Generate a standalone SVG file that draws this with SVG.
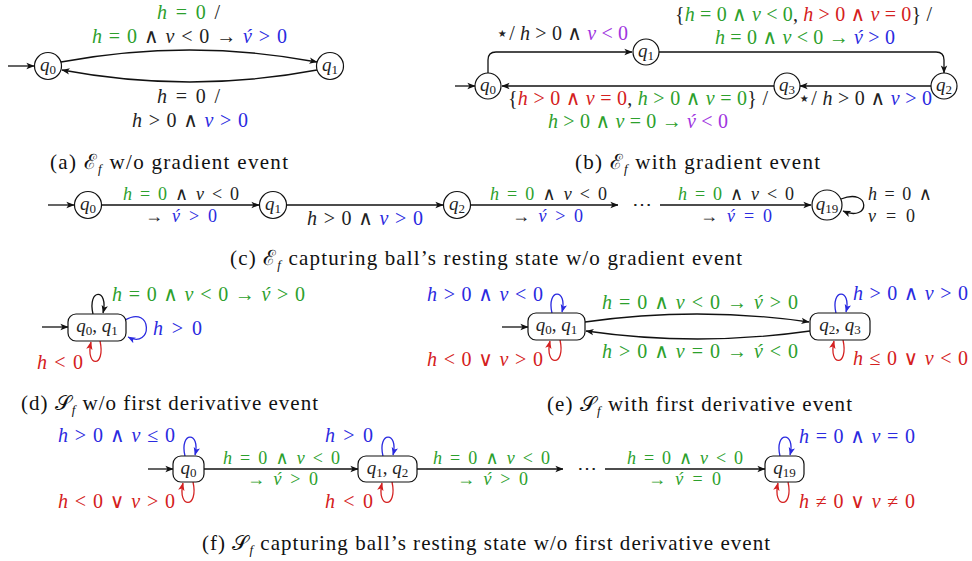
<svg xmlns="http://www.w3.org/2000/svg" width="972" height="561" viewBox="0 0 972 561">
<style>
.m{font-family:"Liberation Serif","DejaVu Serif",serif;font-size:20px;fill:#222}
.m2{font-size:18px}
.n{font-family:"Liberation Serif","DejaVu Serif",serif;font-size:19px;fill:#222}
.cap{font-family:"Liberation Serif","DejaVu Serif",serif;font-size:21px;fill:#111}
.i{font-style:italic}
.s{font-size:13px}
.g{fill:#2ca02c}
.b{fill:#2a2ae0}
.r{fill:#d42020}
.p{fill:#a035e0}
.k{fill:#222}
.node{fill:#fff;stroke:#111;stroke-width:1.2}
.e{fill:none;stroke:#111;stroke-width:1.3}
.eb{fill:none;stroke:#2a2ae0;stroke-width:1.3}
.er{fill:none;stroke:#d42020;stroke-width:1.3}
</style>
<defs>
<marker id="ak" viewBox="0 0 10 10" refX="9.5" refY="5" markerWidth="8" markerHeight="8" markerUnits="userSpaceOnUse" orient="auto"><path d="M0,1 L10,5 L0,9 L2.5,5 z" fill="#111"/></marker>
<marker id="ab" viewBox="0 0 10 10" refX="9.5" refY="5" markerWidth="8" markerHeight="8" markerUnits="userSpaceOnUse" orient="auto"><path d="M0,1 L10,5 L0,9 L2.5,5 z" fill="#2a2ae0"/></marker>
<marker id="ar" viewBox="0 0 10 10" refX="9.5" refY="5" markerWidth="8" markerHeight="8" markerUnits="userSpaceOnUse" orient="auto"><path d="M0,1 L10,5 L0,9 L2.5,5 z" fill="#d42020"/></marker>
</defs>

<!-- ===== (a) ===== -->
<g id="connectors-a">
<path class="e" d="M8,66 L34,66" marker-end="url(#ak)"/>
<path class="e" d="M61,62 Q190,38 317,62" marker-end="url(#ak)"/>
<path class="e" d="M317,70 Q190,94 62,70" marker-end="url(#ak)"/>
</g>
<g id="a-q0"><circle class="node" cx="48" cy="66" r="13.5"/><text class="n" x="48" y="71" text-anchor="middle"><tspan class="i">q</tspan><tspan class="s" dy="3">0</tspan></text></g>
<g id="a-q1"><circle class="node" cx="330" cy="66" r="13.5"/><text class="n" x="330" y="71" text-anchor="middle"><tspan class="i">q</tspan><tspan class="s" dy="3">1</tspan></text></g>
<g id="labels-a">
<text class="m" x="157" y="19" textLength="63" lengthAdjust="spacing"><tspan class="g"><tspan class="i">h</tspan> = 0</tspan> /</text>
<text class="m" x="92" y="43" textLength="195" lengthAdjust="spacing"><tspan class="g"><tspan class="i">h</tspan> = 0</tspan> &#x2227; <tspan class="i">v</tspan> &lt; 0 &#x2192; <tspan class="b"><tspan class="i">v&#x301;</tspan> &gt; 0</tspan></text>
<text class="m" x="157" y="103" textLength="63" lengthAdjust="spacing"><tspan class="i">h</tspan> = 0 /</text>
<text class="m" x="132" y="127" textLength="116" lengthAdjust="spacing"><tspan class="i">h</tspan> &gt; 0 &#x2227; <tspan class="b"><tspan class="i">v</tspan> &gt; 0</tspan></text>
<text class="cap" x="50" y="169" textLength="238" lengthAdjust="spacing">(a) &#x2130;<tspan class="i s" dy="4">f</tspan><tspan dy="-4"> w/o gradient event</tspan></text>
</g>

<!-- ===== (b) ===== -->
<g id="connectors-b">
<path class="e" d="M455,86 L475,86" marker-end="url(#ak)"/>
<path class="e" d="M488,73 L488,60 Q488,52 496,52 L632,52" marker-end="url(#ak)"/>
<path class="e" d="M659,52 L936,52 Q944,52 944,60 L944,73" marker-end="url(#ak)"/>
<path class="e" d="M931,86 L800,86" marker-end="url(#ak)"/>
<path class="e" d="M774,86 L502,86" marker-end="url(#ak)"/>
</g>
<g id="b-q0"><circle class="node" cx="488" cy="86" r="13"/><text class="n" x="488" y="91" text-anchor="middle"><tspan class="i">q</tspan><tspan class="s" dy="3">0</tspan></text></g>
<g id="b-q1"><circle class="node" cx="646" cy="52" r="13"/><text class="n" x="646" y="57" text-anchor="middle"><tspan class="i">q</tspan><tspan class="s" dy="3">1</tspan></text></g>
<g id="b-q3"><circle class="node" cx="787" cy="86" r="13"/><text class="n" x="787" y="91" text-anchor="middle"><tspan class="i">q</tspan><tspan class="s" dy="3">3</tspan></text></g>
<g id="b-q2"><circle class="node" cx="944" cy="86" r="13"/><text class="n" x="944" y="91" text-anchor="middle"><tspan class="i">q</tspan><tspan class="s" dy="3">2</tspan></text></g>
<g id="labels-b">
<text class="m" x="496" y="40" textLength="132" lengthAdjust="spacing">&#x22C6;/ <tspan class="i">h</tspan> &gt; 0 &#x2227; <tspan class="p"><tspan class="i">v</tspan> &lt; 0</tspan></text>
<text class="m" x="675" y="21" textLength="257" lengthAdjust="spacing">{<tspan class="g"><tspan class="i">h</tspan> = 0 &#x2227; <tspan class="i">v</tspan> &lt; 0</tspan>, <tspan class="r"><tspan class="i">h</tspan> &gt; 0 &#x2227; <tspan class="i">v</tspan> = 0</tspan>} /</text>
<text class="m g" x="715" y="44" textLength="180" lengthAdjust="spacing"><tspan class="i">h</tspan> = 0 &#x2227; <tspan class="i">v</tspan> &lt; 0 &#x2192; <tspan class="b"><tspan class="i">v&#x301;</tspan> &gt; 0</tspan></text>
<text class="m" x="508" y="105" textLength="260" lengthAdjust="spacing">{<tspan class="r"><tspan class="i">h</tspan> &gt; 0 &#x2227; <tspan class="i">v</tspan> = 0</tspan>, <tspan class="g"><tspan class="i">h</tspan> &gt; 0 &#x2227; <tspan class="i">v</tspan> = 0</tspan>} /</text>
<text class="m g" x="548" y="128" textLength="180" lengthAdjust="spacing"><tspan class="i">h</tspan> &gt; 0 &#x2227; <tspan class="i">v</tspan> = 0 &#x2192; <tspan class="p"><tspan class="i">v&#x301;</tspan> &lt; 0</tspan></text>
<text class="m" x="798" y="105" textLength="134" lengthAdjust="spacing">&#x22C6;/ <tspan class="i">h</tspan> &gt; 0 &#x2227; <tspan class="b"><tspan class="i">v</tspan> &gt; 0</tspan></text>
<text class="cap" x="575" y="169" textLength="245" lengthAdjust="spacing">(b) &#x2130;<tspan class="i s" dy="4">f</tspan><tspan dy="-4"> with gradient event</tspan></text>
</g>

<!-- ===== (c) ===== -->
<g id="connectors-c">
<path class="e" d="M48,205 L74,205" marker-end="url(#ak)"/>
<path class="e" d="M102,205 L259,205" marker-end="url(#ak)"/>
<path class="e" d="M287,205 L443,205" marker-end="url(#ak)"/>
<path class="e" d="M471,205 L618,205" marker-end="url(#ak)"/>
<path class="e" d="M660,205 L811,205" marker-end="url(#ak)"/>
<path class="e" d="M841,199 C871,187 871,223 843,211" marker-end="url(#ak)"/>
</g>
<g id="c-q0"><circle class="node" cx="88" cy="205" r="13.5"/><text class="n" x="88" y="210" text-anchor="middle"><tspan class="i">q</tspan><tspan class="s" dy="3">0</tspan></text></g>
<g id="c-q1"><circle class="node" cx="273" cy="205" r="13.5"/><text class="n" x="273" y="210" text-anchor="middle"><tspan class="i">q</tspan><tspan class="s" dy="3">1</tspan></text></g>
<g id="c-q2"><circle class="node" cx="457" cy="205" r="13.5"/><text class="n" x="457" y="210" text-anchor="middle"><tspan class="i">q</tspan><tspan class="s" dy="3">2</tspan></text></g>
<g id="c-q19"><circle class="node" cx="827" cy="205" r="15"/><text class="n" x="827" y="210" text-anchor="middle"><tspan class="i">q</tspan><tspan class="s" dy="3">19</tspan></text></g>
<g id="labels-c">
<text class="m m2" x="123" y="200" textLength="116" lengthAdjust="spacing"><tspan class="g"><tspan class="i">h</tspan> = 0</tspan> &#x2227; <tspan class="i">v</tspan> &lt; 0</text>
<text class="m m2" x="145" y="222" textLength="72" lengthAdjust="spacing">&#x2192; <tspan class="b"><tspan class="i">v&#x301;</tspan> &gt; 0</tspan></text>
<text class="m" x="307" y="225" textLength="116" lengthAdjust="spacing"><tspan class="i">h</tspan> &gt; 0 &#x2227; <tspan class="b"><tspan class="i">v</tspan> &gt; 0</tspan></text>
<text class="m m2" x="490" y="200" textLength="117" lengthAdjust="spacing"><tspan class="g"><tspan class="i">h</tspan> = 0</tspan> &#x2227; <tspan class="i">v</tspan> &lt; 0</text>
<text class="m m2" x="512" y="222" textLength="71" lengthAdjust="spacing">&#x2192; <tspan class="b"><tspan class="i">v&#x301;</tspan> &gt; 0</tspan></text>
<text class="m" x="642" y="211" text-anchor="middle">&#x22EF;</text>
<text class="m m2" x="678" y="200" textLength="116" lengthAdjust="spacing"><tspan class="g"><tspan class="i">h</tspan> = 0</tspan> &#x2227; <tspan class="i">v</tspan> &lt; 0</text>
<text class="m m2" x="700" y="222" textLength="72" lengthAdjust="spacing">&#x2192; <tspan class="b"><tspan class="i">v&#x301;</tspan> = 0</tspan></text>
<text class="m m2" x="868" y="200" textLength="64" lengthAdjust="spacing"><tspan class="i">h</tspan> = 0 &#x2227;</text>
<text class="m m2" x="868" y="222" textLength="47" lengthAdjust="spacing"><tspan class="i">v</tspan> = 0</text>
<text class="cap" x="230" y="265" textLength="512" lengthAdjust="spacing">(c) &#x2130;<tspan class="i s" dy="4">f</tspan><tspan dy="-4"> capturing ball’s resting state w/o gradient event</tspan></text>
</g>

<!-- ===== (d) ===== -->
<g id="connectors-d">
<path class="e" d="M42,327 L68,327" marker-end="url(#ak)"/>
<path class="e" d="M93,314 C87,288 109,288 103,313" marker-end="url(#ak)"/>
<path class="eb" d="M125,320 C153,304 153,350 128,337" marker-end="url(#ab)"/>
<path class="er" d="M100,341 C106,368 85,368 91,342" marker-end="url(#ar)"/>
</g>
<g id="d-q0q1"><rect class="node" x="68" y="314" width="58" height="27" rx="8"/><text class="n" x="97" y="332" text-anchor="middle"><tspan class="i">q</tspan><tspan class="s" dy="3">0</tspan><tspan dy="-3">, </tspan><tspan class="i">q</tspan><tspan class="s" dy="3">1</tspan></text></g>
<g id="labels-d">
<text class="m g" x="112" y="301" textLength="193" lengthAdjust="spacing"><tspan class="i">h</tspan> = 0 &#x2227; <tspan class="i">v</tspan> &lt; 0 &#x2192; <tspan class="i">v&#x301;</tspan> &gt; 0</text>
<text class="m b" x="153" y="335" textLength="49" lengthAdjust="spacing"><tspan class="i">h</tspan> &gt; 0</text>
<text class="m r" x="37" y="369" textLength="46" lengthAdjust="spacing"><tspan class="i">h</tspan> &lt; 0</text>
<text class="cap" x="21" y="410" textLength="297" lengthAdjust="spacing">(d) &#x1D4AE;<tspan class="i s" dy="4">f</tspan><tspan dy="-4"> w/o first derivative event</tspan></text>
</g>

<!-- ===== (e) ===== -->
<g id="connectors-e">
<path class="e" d="M502,327 L528,327" marker-end="url(#ak)"/>
<path class="e" d="M585,322 Q697,306 809,322" marker-end="url(#ak)"/>
<path class="e" d="M810,331 Q697,347 586,331" marker-end="url(#ak)"/>
<path class="eb" d="M552,313 C546,288 568,288 562,312" marker-end="url(#ab)"/>
<path class="er" d="M560,340 C566,367 544,367 550,341" marker-end="url(#ar)"/>
<path class="eb" d="M836,313 C830,288 852,288 846,312" marker-end="url(#ab)"/>
<path class="er" d="M843,340 C849,367 828,367 834,341" marker-end="url(#ar)"/>
</g>
<g id="e-q0q1"><rect class="node" x="528" y="313" width="57" height="27" rx="8"/><text class="n" x="556.5" y="331" text-anchor="middle"><tspan class="i">q</tspan><tspan class="s" dy="3">0</tspan><tspan dy="-3">, </tspan><tspan class="i">q</tspan><tspan class="s" dy="3">1</tspan></text></g>
<g id="e-q2q3"><rect class="node" x="810" y="313" width="60" height="27" rx="8"/><text class="n" x="840" y="331" text-anchor="middle"><tspan class="i">q</tspan><tspan class="s" dy="3">2</tspan><tspan dy="-3">, </tspan><tspan class="i">q</tspan><tspan class="s" dy="3">3</tspan></text></g>
<g id="labels-e">
<text class="m b" x="427" y="301" textLength="116" lengthAdjust="spacing"><tspan class="i">h</tspan> &gt; 0 &#x2227; <tspan class="i">v</tspan> &lt; 0</text>
<text class="m r" x="427" y="366" textLength="116" lengthAdjust="spacing"><tspan class="i">h</tspan> &lt; 0 &#x2228; <tspan class="i">v</tspan> &gt; 0</text>
<text class="m g" x="602" y="309" textLength="196" lengthAdjust="spacing"><tspan class="i">h</tspan> = 0 &#x2227; <tspan class="i">v</tspan> &lt; 0 &#x2192; <tspan class="i">v&#x301;</tspan> &gt; 0</text>
<text class="m g" x="602" y="358" textLength="196" lengthAdjust="spacing"><tspan class="i">h</tspan> &gt; 0 &#x2227; <tspan class="i">v</tspan> = 0 &#x2192; <tspan class="i">v&#x301;</tspan> &lt; 0</text>
<text class="m b" x="853" y="300" textLength="115" lengthAdjust="spacing"><tspan class="i">h</tspan> &gt; 0 &#x2227; <tspan class="i">v</tspan> &gt; 0</text>
<text class="m r" x="853" y="365" textLength="115" lengthAdjust="spacing"><tspan class="i">h</tspan> &#x2264; 0 &#x2228; <tspan class="i">v</tspan> &lt; 0</text>
<text class="cap" x="547" y="411" textLength="305" lengthAdjust="spacing">(e) &#x1D4AE;<tspan class="i s" dy="4">f</tspan><tspan dy="-4"> with first derivative event</tspan></text>
</g>

<!-- ===== (f) ===== -->
<g id="connectors-f">
<path class="e" d="M148,469 L173,469" marker-end="url(#ak)"/>
<path class="e" d="M204,469 L358,469" marker-end="url(#ak)"/>
<path class="e" d="M417,469 L563,469" marker-end="url(#ak)"/>
<path class="e" d="M605,469 L765,469" marker-end="url(#ak)"/>
<path class="eb" d="M185,456 C179,431 201,431 195,455" marker-end="url(#ab)"/>
<path class="er" d="M193,482 C199,509 177,509 183,483" marker-end="url(#ar)"/>
<path class="eb" d="M383,456 C377,431 399,431 393,455" marker-end="url(#ab)"/>
<path class="er" d="M392,482 C398,509 376,509 382,483" marker-end="url(#ar)"/>
<path class="eb" d="M780,456 C774,431 796,431 790,455" marker-end="url(#ab)"/>
<path class="er" d="M788,482 C794,509 772,509 778,483" marker-end="url(#ar)"/>
</g>
<g id="f-q0"><rect class="node" x="173" y="456" width="31" height="26" rx="8"/><text class="n" x="188.5" y="474" text-anchor="middle"><tspan class="i">q</tspan><tspan class="s" dy="3">0</tspan></text></g>
<g id="f-q1q2"><rect class="node" x="358" y="456" width="59" height="26" rx="8"/><text class="n" x="387.5" y="474" text-anchor="middle"><tspan class="i">q</tspan><tspan class="s" dy="3">1</tspan><tspan dy="-3">, </tspan><tspan class="i">q</tspan><tspan class="s" dy="3">2</tspan></text></g>
<g id="f-q19"><rect class="node" x="765" y="456" width="39" height="26" rx="8"/><text class="n" x="784.5" y="474" text-anchor="middle"><tspan class="i">q</tspan><tspan class="s" dy="3">19</tspan></text></g>
<g id="labels-f">
<text class="m b" x="58" y="442" textLength="117" lengthAdjust="spacing"><tspan class="i">h</tspan> &gt; 0 &#x2227; <tspan class="i">v</tspan> &#x2264; 0</text>
<text class="m r" x="58" y="508" textLength="117" lengthAdjust="spacing"><tspan class="i">h</tspan> &lt; 0 &#x2228; <tspan class="i">v</tspan> &gt; 0</text>
<text class="m b" x="325" y="442" textLength="48" lengthAdjust="spacing"><tspan class="i">h</tspan> &gt; 0</text>
<text class="m r" x="325" y="508" textLength="48" lengthAdjust="spacing"><tspan class="i">h</tspan> &lt; 0</text>
<text class="m m2 g" x="223" y="464" textLength="117" lengthAdjust="spacing"><tspan class="i">h</tspan> = 0 &#x2227; <tspan class="i">v</tspan> &lt; 0</text>
<text class="m m2 g" x="247" y="485" textLength="71" lengthAdjust="spacing">&#x2192; <tspan class="i">v&#x301;</tspan> &gt; 0</text>
<text class="m m2 g" x="433" y="464" textLength="117" lengthAdjust="spacing"><tspan class="i">h</tspan> = 0 &#x2227; <tspan class="i">v</tspan> &lt; 0</text>
<text class="m m2 g" x="457" y="485" textLength="71" lengthAdjust="spacing">&#x2192; <tspan class="i">v&#x301;</tspan> &gt; 0</text>
<text class="m" x="587" y="475" text-anchor="middle">&#x22EF;</text>
<text class="m m2 g" x="627" y="464" textLength="116" lengthAdjust="spacing"><tspan class="i">h</tspan> = 0 &#x2227; <tspan class="i">v</tspan> &lt; 0</text>
<text class="m m2 g" x="648" y="485" textLength="73" lengthAdjust="spacing">&#x2192; <tspan class="i">v&#x301;</tspan> = 0</text>
<text class="m b" x="799" y="443" textLength="116" lengthAdjust="spacing"><tspan class="i">h</tspan> = 0 &#x2227; <tspan class="i">v</tspan> = 0</text>
<text class="m r" x="799" y="508" textLength="116" lengthAdjust="spacing"><tspan class="i">h</tspan> &#x2260; 0 &#x2228; <tspan class="i">v</tspan> &#x2260; 0</text>
<text class="cap" x="202" y="550" textLength="568" lengthAdjust="spacing">(f) &#x1D4AE;<tspan class="i s" dy="4">f</tspan><tspan dy="-4"> capturing ball’s resting state w/o first derivative event</tspan></text>
</g>
</svg>
